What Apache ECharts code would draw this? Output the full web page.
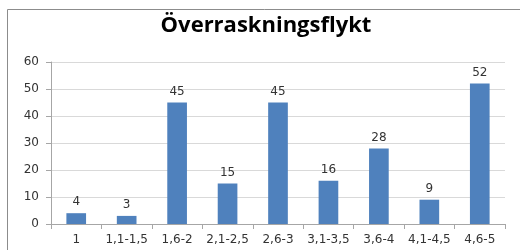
<!DOCTYPE html>
<html><head><meta charset="utf-8">
<script src="https://cdn.jsdelivr.net/npm/echarts@6/dist/echarts.min.js"></script>
<style>html,body{margin:0;padding:0;background:#fff}#c{width:520px;height:250px}</style>
</head><body><div id="c"></div>
<script>
const title = 'Överraskningsflykt';
const categories = ['1','1,1-1,5','1,6-2','2,1-2,5','2,6-3','3,1-3,5','3,6-4','4,1-4,5','4,6-5'];
const values = [4,3,45,15,45,16,28,9,52];
const yTicks = [0,10,20,30,40,50,60];

const chart = echarts.init(document.getElementById('c'), null, {renderer:'canvas'});
chart.setOption({
  animation:false,
  backgroundColor:'#fff',
  graphic:[
    {type:'rect', shape:{x:7.5,y:9.5,width:530,height:260}, style:{fill:'none',stroke:'#8c8c8c',lineWidth:1}, silent:true},
    {type:'text', x:266, y:26, style:{text:title, font:'bold 22px "Open Sans"', fill:'#000', textAlign:'center', textVerticalAlign:'middle'}}
  ],
  grid:{left:51, right:15, top:62, bottom:26, containLabel:false},
  xAxis:{
    type:'category', data:categories,
    axisLine:{lineStyle:{color:'#a6a6a6'}},
    axisTick:{show:true, length:5, lineStyle:{color:'#a6a6a6'}},
    axisLabel:{color:'#333', fontFamily:'DejaVu Sans', fontSize:12, margin:10, interval:0}
  },
  yAxis:{
    type:'value', min:yTicks[0], max:yTicks[yTicks.length-1], interval:10,
    axisLine:{show:true, lineStyle:{color:'#a6a6a6'}},
    axisTick:{show:true, length:5, lineStyle:{color:'#a6a6a6'}},
    axisLabel:{color:'#333', fontFamily:'DejaVu Sans', fontSize:12, margin:12},
    splitLine:{lineStyle:{color:'#d9d9d9'}}
  },
  series:[{
    type:'bar', data:values, barCategoryGap:'61%',
    itemStyle:{color:'#4f81bd'},
    label:{show:true, position:'top', distance:5, color:'#333', fontFamily:'DejaVu Sans', fontSize:12}
  }]
});
</script></body></html>
